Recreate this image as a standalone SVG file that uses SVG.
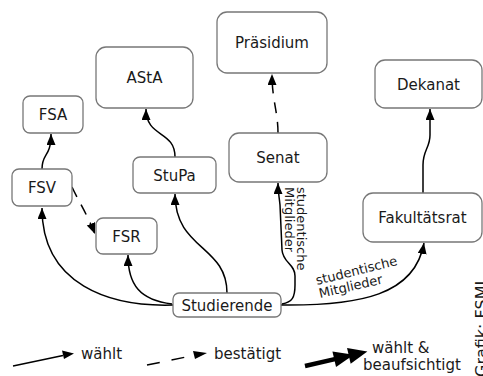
<svg xmlns="http://www.w3.org/2000/svg" width="483" height="376" viewBox="0 0 483 376">
<style>
.box{fill:#fff;stroke:#777;stroke-width:1.3}
.lbl{font-family:"DejaVu Sans",sans-serif;font-size:15px;fill:#1a1a1a;text-anchor:middle}
.el{font-family:"DejaVu Sans",sans-serif;font-size:13px;fill:#1a1a1a}
.e{fill:none;stroke:#000;stroke-width:1.5;marker-end:url(#ah)}
.d{stroke-dasharray:11,9}
</style>
<defs>
<marker id="ah" markerUnits="userSpaceOnUse" markerWidth="12" markerHeight="10" refX="11" refY="4.5" orient="auto">
<path d="M0,0 L11,4.5 L0,9 z" fill="#000"/>
</marker>
</defs>
<g id="connectors">
<path class="e" d="M173,305 C110,307 42,285 42,208"/>
<path class="e" d="M172,304 C140,300 128,285 128,255"/>
<path class="e" d="M227,293 C227,245 175,250 175,194"/>
<path class="e" d="M175,157 C175,130 146,138 146,109"/>
<path class="e" d="M42,169 C42,152 51,158 51,134"/>
<path class="e d" d="M72,187 C78,200 88,216 95,234"/>
<path class="e d" d="M278,133 C278,112 272,100 272,74"/>
<path class="e" d="M282,304 C292,302 295,298 295,285 L295,276 C295,264 283,263 282,250 L280,205 C279,195 278,192 278,183"/>
<path class="e" d="M281,305 C360,306 415,295 424,243"/>
<path class="e" d="M423,193 L423,165 C423,150 430,148 430,135 L430,109"/>
</g>
<g id="edge-labels">
<text class="el" transform="translate(297,187) rotate(90)">studentische</text>
<text class="el" transform="translate(284.5,187) rotate(90)">Mitglieder</text>
<text class="el" transform="translate(317,285) rotate(-14)">studentische</text>
<text class="el" transform="translate(320,298) rotate(-13)">Mitglieder</text>
</g>
<g id="FSA"><rect class="box" x="23" y="96" width="60" height="37" rx="7"/><text class="lbl" x="53" y="120">FSA</text></g>
<g id="FSV"><rect class="box" x="12" y="169" width="60" height="37" rx="7"/><text class="lbl" x="42" y="193">FSV</text></g>
<g id="FSR"><rect class="box" x="96" y="218" width="61" height="36" rx="7"/><text class="lbl" x="126.5" y="241.5">FSR</text></g>
<g id="StuPa"><rect class="box" x="133" y="157" width="83" height="36" rx="7"/><text class="lbl" x="174.5" y="180.5">StuPa</text></g>
<g id="AStA"><rect class="box" x="96" y="47" width="97" height="61" rx="10"/><text class="lbl" x="144.5" y="83">AStA</text></g>
<g id="Senat"><rect class="box" x="229" y="133" width="98" height="49" rx="10"/><text class="lbl" x="278" y="163">Senat</text></g>
<g id="Praesidium"><rect class="box" x="217" y="12" width="110" height="61" rx="10"/><text class="lbl" x="272" y="48">Präsidium</text></g>
<g id="Dekanat"><rect class="box" x="375" y="60" width="107" height="48" rx="10"/><text class="lbl" x="428.5" y="89.5">Dekanat</text></g>
<g id="Fakultaetsrat"><rect class="box" x="363" y="193" width="119" height="49" rx="10"/><text class="lbl" x="422.5" y="223">Fakultätsrat</text></g>
<g id="Studierende"><rect class="box" x="173" y="293" width="108" height="24" rx="6"/><text class="lbl" x="227" y="310.5">Studierende</text></g>
<g id="legend">
<path d="M13,366 L63,355.5" stroke="#000" stroke-width="1.5" fill="none"/>
<path d="M62,350.5 L74,353.5 L64,359 z" fill="#000"/>
<text class="el" style="font-size:15px" x="81" y="359">wählt</text>
<path d="M147,365 L191,356" stroke="#000" stroke-width="1.5" fill="none" stroke-dasharray="13,12"/>
<path d="M193,351 L207,353 L195,359 z" fill="#000"/>
<text class="el" style="font-size:15px" x="214" y="359">bestätigt</text>
<g transform="translate(305,366) rotate(-13)">
<path d="M0,0 L44,0" stroke="#000" stroke-width="4.5" fill="none"/>
<path d="M30,-8 L50,0 L30,8 z" fill="#000"/>
<path d="M45,-8 L64,0 L45,8 z" fill="#000"/>
</g>
<text class="el" style="font-size:15px" x="372" y="353">wählt &amp;</text>
<text class="el" style="font-size:15px" x="363" y="370">beaufsichtigt</text>
</g>
<text class="el" style="font-size:16px" transform="translate(487,377) rotate(-90)">Grafik: FSMI</text>
</svg>
